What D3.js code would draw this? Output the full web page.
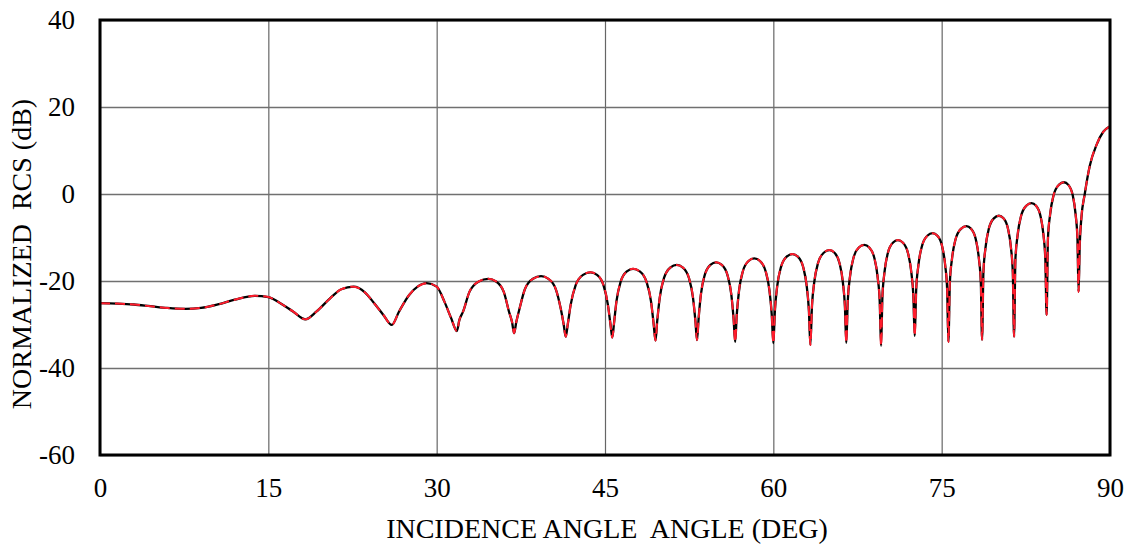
<!DOCTYPE html>
<html>
<head>
<meta charset="utf-8">
<script src="https://cdn.jsdelivr.net/npm/d3@7"></script>
<style>
  html, body { margin: 0; padding: 0; background: #fff; }
  svg { display: block; }
</style>
</head>
<body>
<svg id="chart" width="1132" height="545"></svg>
<script>
// ---- data ----
const xTicks = [0, 15, 30, 45, 60, 75, 90];
const yTicks = [-60, -40, -20, 0, 20, 40];
const xTitle = "INCIDENCE ANGLE  ANGLE (DEG)";
const yTitle = "NORMALIZED  RCS (dB)";

// incidence angle (deg)
const angle = [
  0, 1.5, 3, 4.5, 6, 7.6, 9, 10.5, 12, 13.8, 15, 16, 17.2, 18.3,
  19.3, 20.5, 21.5, 22.6, 23.6, 24.4, 25.25, 26.0,
  26.65, 27.55, 28.3, 29.1, 30.0, 30.7, 31.3, 31.8,
  32.02, 32.36, 32.92, 33.76, 34.6, 35.29, 35.98, 36.44, 36.72, 36.9,
  37.09, 37.38, 37.86, 38.58, 39.3, 39.96, 40.62, 41.06, 41.32, 41.5,
  41.68, 41.94, 42.38, 43.04, 43.7, 44.29, 44.87, 45.26, 45.49, 45.65,
  45.8, 46.02, 46.39, 46.95, 47.5, 48.1, 48.7, 49.1, 49.34, 49.5,
  49.65, 49.88, 50.26, 50.83, 51.4, 51.94, 52.48, 52.84, 53.06, 53.2,
  53.34, 53.54, 53.88, 54.39, 54.9, 55.41, 55.92, 56.26, 56.46, 56.6,
  56.74, 56.94, 57.28, 57.79, 58.3, 58.81, 59.32, 59.66, 59.86, 60.0,
  60.14, 60.34, 60.68, 61.19, 61.7, 62.18, 62.66, 62.98, 63.17, 63.3,
  63.44, 63.64, 63.98, 64.49, 65.0, 65.45, 65.9, 66.2, 66.38, 66.5,
  66.63, 66.82, 67.14, 67.62, 68.1, 68.55, 69.0, 69.3, 69.48, 69.6,
  69.72, 69.9, 70.2, 70.65, 71.1, 71.55, 72.0, 72.3, 72.48, 72.6,
  72.73, 72.92, 73.24, 73.72, 74.2, 74.62, 75.04, 75.32, 75.49, 75.6,
  75.73, 75.92, 76.24, 76.72, 77.2, 77.62, 78.04, 78.32, 78.49, 78.6,
  78.72, 78.9, 79.2, 79.65, 80.1, 80.51, 80.91, 81.18, 81.34, 81.45,
  81.57, 81.76, 82.07, 82.54, 83.0, 83.41, 83.81, 84.08, 84.24, 84.35,
  84.47, 84.66, 84.97, 85.44, 85.9, 86.29, 86.68, 86.94, 87.1, 87.2,
  87.3, 87.45, 87.75, 88.2, 88.8, 89.4, 90
];

// normalized RCS (dB), black solid curve
const rcsRef = [
  -25.1, -25.2, -25.4, -25.8, -26.2, -26.4, -26.2, -25.4, -24.3, -23.4, -23.7, -25.0, -27.0, -28.8,
  -27.0, -24.0, -21.9, -21.3, -22.6, -25.0, -27.8, -30.1,
  -27.0, -23.2, -21.3, -20.5, -21.3, -24.8, -28.6, -31.5,
  -29.0, -27.0, -22.5, -20.1, -19.5, -20.1, -22.5, -27.0, -29.5, -32.0,
  -29.5, -26.4, -21.9, -19.5, -18.9, -19.5, -21.9, -26.4, -30.0, -32.8,
  -30.0, -25.5, -21.0, -18.6, -18.0, -18.6, -21.0, -25.5, -30.0, -33.0,
  -29.8, -24.7, -20.2, -17.8, -17.2, -17.8, -20.2, -24.7, -30.0, -33.7,
  -29.3, -23.8, -19.3, -16.9, -16.3, -16.9, -19.3, -23.8, -29.3, -33.6,
  -28.7, -23.2, -18.7, -16.3, -15.7, -16.3, -18.7, -23.2, -28.7, -34.0,
  -27.8, -22.3, -17.8, -15.4, -14.8, -15.4, -17.8, -22.3, -27.8, -34.3,
  -26.8, -21.3, -16.8, -14.4, -13.8, -14.4, -16.8, -21.3, -26.8, -34.7,
  -25.9, -20.4, -15.9, -13.5, -12.9, -13.5, -15.9, -20.4, -25.9, -34.2,
  -24.7, -19.2, -14.7, -12.3, -11.7, -12.3, -14.7, -19.2, -24.7, -34.9,
  -23.6, -18.1, -13.6, -11.2, -10.6, -11.2, -13.6, -18.1, -23.6, -32.6,
  -22.0, -16.5, -12.0, -9.6, -9.0, -9.6, -12.0, -16.5, -22.0, -34.0,
  -20.4, -14.9, -10.4, -8.0, -7.4, -8.0, -10.4, -14.9, -20.4, -33.5,
  -18.0, -12.5, -8.0, -5.6, -5.0, -5.6, -8.0, -12.5, -18.0, -32.8,
  -15.1, -9.6, -5.1, -2.7, -2.1, -2.7, -5.1, -9.6, -15.1, -27.8,
  -10.3, -4.8, -0.3, 2.1, 2.7, 2.1, -0.3, -4.8, -10.3, -22.5,
  -12.0, -5.5, 0.0, 6.5, 11.3, 14.3, 15.6
];

// red dashed curve (second solution, visually coincident)
const rcsCmp = rcsRef.slice();

// ---- drawing ----
const W = 1132, H = 545;
const m = { left: 100, right: 22, top: 20, bottom: 90 };
const FONT = "'Liberation Serif', 'Times New Roman', serif";
const FS = 27;
const svg = d3.select("#chart");

const x = d3.scaleLinear().domain([0, 90]).range([m.left, W - m.right]);
const y = d3.scaleLinear().domain([-60, 40]).range([H - m.bottom, m.top]);

// gridlines + tick labels
const gx = svg.append("g")
  .attr("transform", `translate(0,${H - m.bottom})`)
  .call(d3.axisBottom(x).tickValues(xTicks).tickSize(-(H - m.bottom - m.top)).tickFormat(d => String(d)).tickPadding(23));
gx.select(".domain").remove();
gx.selectAll(".tick line").attr("stroke", "#666").attr("stroke-width", 1.2);
gx.selectAll(".tick text").attr("font-size", FS).style("font-family", FONT).attr("fill", "#000");

const gy = svg.append("g")
  .attr("transform", `translate(${m.left},0)`)
  .call(d3.axisLeft(y).tickValues(yTicks).tickSize(-(W - m.left - m.right)).tickFormat(d => String(d)).tickPadding(25));
gy.select(".domain").remove();
gy.selectAll(".tick line").attr("stroke", "#707070").attr("stroke-width", 1.5);
gy.selectAll(".tick text").attr("font-size", FS).style("font-family", FONT).attr("fill", "#000");

// curves
const pts = (vals) => angle.map((a, i) => [a, vals[i]]);
const line = d3.line().x(d => x(d[0])).y(d => y(d[1])).curve(d3.curveMonotoneX);

svg.append("path")
  .attr("d", line(pts(rcsRef)))
  .attr("fill", "none").attr("stroke", "#000").attr("stroke-width", 2.3)
  .attr("stroke-linejoin", "round");

svg.append("path")
  .attr("d", line(pts(rcsCmp)))
  .attr("fill", "none").attr("stroke", "#ff1c2c").attr("stroke-width", 2.0)
  .attr("stroke-dasharray", "10,5")
  .attr("stroke-linejoin", "round");

// frame
svg.append("rect")
  .attr("x", m.left).attr("y", m.top)
  .attr("width", W - m.left - m.right).attr("height", H - m.bottom - m.top)
  .attr("fill", "none").attr("stroke", "#000").attr("stroke-width", 3);

// titles
svg.append("text")
  .attr("x", 607).attr("y", 538)
  .attr("text-anchor", "middle").attr("font-size", 28)
  .style("font-family", FONT).style("white-space", "pre")
  .attr("xml:space", "preserve")
  .text(xTitle);

svg.append("text")
  .attr("transform", `translate(31,254) rotate(-90)`)
  .attr("text-anchor", "middle").attr("font-size", 28)
  .style("font-family", FONT).style("white-space", "pre")
  .attr("xml:space", "preserve")
  .text(yTitle);
</script>
</body>
</html>
